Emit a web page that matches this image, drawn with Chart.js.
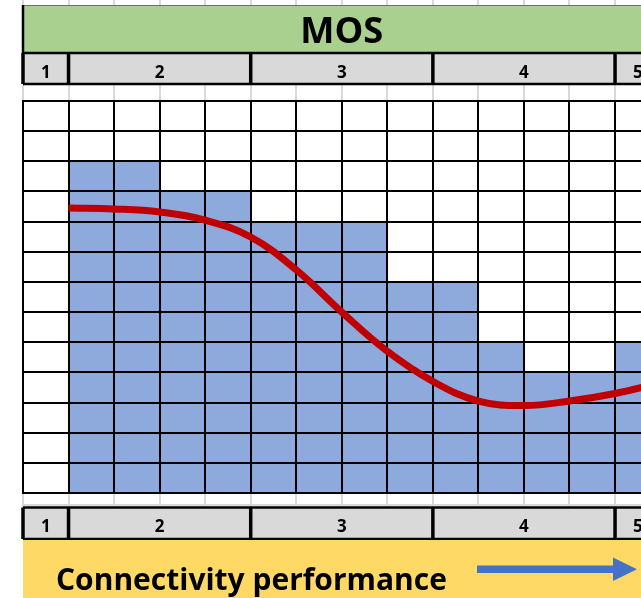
<!DOCTYPE html>
<html>
<head>
<meta charset="utf-8">
<title>MOS vs connectivity performance</title>
<script src="https://cdn.jsdelivr.net/npm/chart.js@4/dist/chart.umd.min.js"></script>
<style>
  html, body { margin: 0; padding: 0; background: #ffffff; overflow: hidden; }
  canvas { display: block; }
</style>
</head>
<body>
<canvas id="mosChart" width="641" height="598"></canvas>
<script>
// Filled cells per column (how many rows of each column are shaded)
const cellCounts = [0, 11, 11, 10, 10, 9, 9, 9, 7, 7, 5, 4, 4, 5];
// Smoothed MOS curve, sampled on the column boundaries
const curveX = [1, 2, 3, 4, 5, 6, 7, 8, 9, 10, 11, 12, 13, 14];
const curveY = [9.45, 9.42, 9.32, 9.05, 8.49, 7.4, 6.0, 4.7, 3.7, 3.05, 2.9, 3.05, 3.3, 3.65];
// MOS levels shown in the header rows and how many columns each one spans
const mosLevels = ['1', '2', '3', '4', '5'];
const levelColumns = [1, 4, 4, 4, 1];
const rowCount = 13;
const titleText = 'MOS';
const footerText = 'Connectivity performance';

// The sheet continues past the right edge; only part of the last column shows
const visibleColumns = 13.57;

const barData = cellCounts.map((v, i) => ({ x: i + 0.5, y: v }));
const curveData = curveX.map((x, i) => ({ x: x, y: curveY[i] }));

// Column boundaries of each merged MOS header cell
const levelBounds = [0];
levelColumns.forEach(n => levelBounds.push(levelBounds[levelBounds.length - 1] + n));

const FONT = '"Open Sans", Lato, "DejaVu Sans", sans-serif';

// Bold text sized so that it spans the given width
function fitFont(ctx, text, width) {
  ctx.font = 'bold 20px ' + FONT;
  const size = 20 * width / ctx.measureText(text).width;
  ctx.font = 'bold ' + size.toFixed(2) + 'px ' + FONT;
}

// Header bands, footer band and light sheet gridlines around the plot
const sheetFrame = {
  id: 'sheetFrame',
  beforeDraw(chart) {
    const ctx = chart.ctx;
    const xs = chart.scales.x;
    const area = chart.chartArea;
    const W = chart.width;
    const left = area.left;
    const px = v => xs.getPixelForValue(v);

    ctx.save();
    ctx.fillStyle = '#ffffff';
    ctx.fillRect(0, 0, W, chart.height);

    // faint spreadsheet cell lines in the gaps between the bands
    ctx.strokeStyle = '#d9d9d9';
    ctx.lineWidth = 2;
    const gaps = [[0, 5], [85, area.top], [area.bottom, 507]];
    for (let i = 0; i <= cellCounts.length; i++) {
      const x = Math.round(px(i));
      gaps.forEach(([a, b]) => {
        ctx.beginPath(); ctx.moveTo(x, a); ctx.lineTo(x, b); ctx.stroke();
      });
    }
    ctx.beginPath(); ctx.moveTo(left, 505); ctx.lineTo(W, 505); ctx.stroke();

    // MOS title band
    ctx.fillStyle = '#a9d08e';
    ctx.fillRect(left, 5, W - left, 48);
    ctx.strokeStyle = '#6f6f6f';
    ctx.lineWidth = 1;
    ctx.beginPath(); ctx.moveTo(left, 5.5); ctx.lineTo(W, 5.5); ctx.stroke();
    ctx.strokeStyle = '#000000';
    ctx.lineWidth = 2.5;
    ctx.beginPath(); ctx.moveTo(left, 5); ctx.lineTo(left, 53); ctx.stroke();
    ctx.fillStyle = '#000000';
    fitFont(ctx, titleText, 83);
    ctx.textAlign = 'center';
    ctx.textBaseline = 'alphabetic';
    ctx.fillText(titleText, (px(0) + px(cellCounts.length)) / 2, 43);

    // MOS level rows above and below the grid
    const headerRow = (top, bottom, baseline) => {
      ctx.fillStyle = '#d9d9d9';
      ctx.fillRect(left, top, W - left, bottom - top);
      ctx.strokeStyle = '#000000';
      ctx.lineWidth = 2.5;
      ctx.beginPath();
      ctx.moveTo(left, top); ctx.lineTo(W, top);
      ctx.moveTo(left, bottom); ctx.lineTo(W, bottom);
      ctx.stroke();
      ctx.lineWidth = 3.5;
      levelBounds.forEach(b => {
        const x = px(b);
        ctx.beginPath(); ctx.moveTo(x, top); ctx.lineTo(x, bottom); ctx.stroke();
      });
      ctx.fillStyle = '#000000';
      ctx.font = 'bold 17px ' + FONT;
      ctx.textAlign = 'center';
      mosLevels.forEach((lab, i) => {
        ctx.fillText(lab, (px(levelBounds[i]) + px(levelBounds[i + 1])) / 2, baseline);
      });
    };
    headerRow(53, 84, 78);
    headerRow(507.5, 539, 532);

    // footer band with the axis caption and arrow
    ctx.fillStyle = '#ffd966';
    ctx.fillRect(left, 540, W - left, chart.height - 540);
    ctx.fillStyle = '#000000';
    fitFont(ctx, footerText, 391);
    ctx.textAlign = 'left';
    ctx.fillText(footerText, 56, 590);

    ctx.fillStyle = '#4472c4';
    ctx.fillRect(477, 565.5, 137, 7.5);
    ctx.beginPath();
    ctx.moveTo(613, 557.5);
    ctx.lineTo(637, 569.2);
    ctx.lineTo(613, 581);
    ctx.closePath();
    ctx.fill();
    ctx.restore();
  }
};

// Grid lines sit above the shaded cells, the curve goes above the grid
const curveOnTop = {
  id: 'curveOnTop',
  beforeDatasetDraw(chart, args) {
    if (args.meta.type === 'line') return false;
  },
  afterDraw(chart) {
    const ctx = chart.ctx;
    const a = chart.chartArea;
    chart.data.datasets.forEach((ds, i) => {
      const meta = chart.getDatasetMeta(i);
      if (meta.type !== 'line') return;
      ctx.save();
      ctx.beginPath();
      ctx.rect(a.left, a.top, a.right - a.left, a.bottom - a.top);
      ctx.clip();
      meta.controller.draw();
      ctx.restore();
    });
  }
};

new Chart(document.getElementById('mosChart'), {
  data: {
    datasets: [
      {
        type: 'bar',
        label: 'cells',
        data: barData,
        backgroundColor: '#8ea9db',
        borderWidth: 0,
        barPercentage: 1,
        categoryPercentage: 1
      },
      {
        type: 'line',
        label: 'MOS',
        data: curveData,
        borderColor: '#c00000',
        borderWidth: 7,
        pointRadius: 0,
        tension: 0.4,
        fill: false
      }
    ]
  },
  options: {
    responsive: false,
    animation: false,
    events: [],
    layout: { padding: { left: 23, top: 101, right: 0, bottom: 105 } },
    plugins: { legend: { display: false }, tooltip: { enabled: false } },
    scales: {
      x: {
        type: 'linear',
        offset: false,
        min: 0,
        max: visibleColumns,
        ticks: { display: false, stepSize: 1, includeBounds: false },
        grid: { color: '#000000', lineWidth: 2, drawTicks: false, offset: false, z: 1 },
        border: { display: true, color: '#000000', width: 2, z: 1 }
      },
      y: {
        type: 'linear',
        min: 0,
        max: rowCount,
        ticks: { display: false, stepSize: 1 },
        grid: { color: '#000000', lineWidth: 2, drawTicks: false, z: 1 },
        border: { display: true, color: '#000000', width: 2, z: 1 }
      }
    }
  },
  plugins: [sheetFrame, curveOnTop]
});
</script>
</body>
</html>
